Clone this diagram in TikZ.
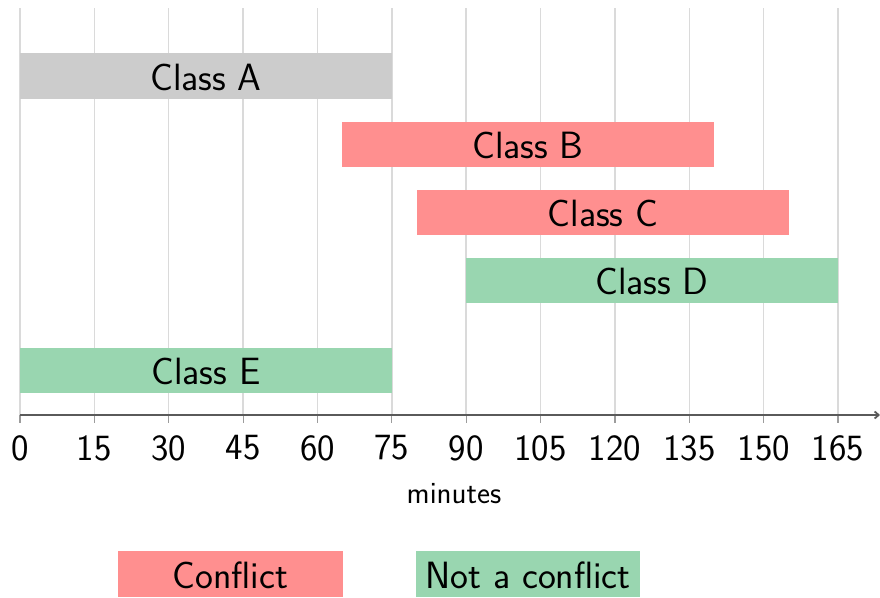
\documentclass[tikz,border=0pt]{standalone}
\usetikzlibrary{arrows.meta}
\definecolor{barred}{RGB}{255,143,143}
\definecolor{bargreen}{RGB}{153,214,176}
\definecolor{bargray}{RGB}{204,204,204}
\definecolor{gridc}{RGB}{218,218,218}
\definecolor{axisc}{RGB}{90,90,90}
\begin{document}
\begin{tikzpicture}[x=1pt,y=-1pt,
  lbl/.style={font=\sffamily\fontsize{38}{44}\selectfont,inner sep=0pt},
  ticklbl/.style={font=\sffamily\fontsize{37}{42}\selectfont,inner sep=0pt},
  gridline/.style={gridc,line width=1.5pt},
  tickline/.style={axisc!60,line width=1.2pt}]
\useasboundingbox (0,0) rectangle (880,597);
% grid
\foreach \m in {0,15,...,165}{
  \draw[gridline] ({20+\m*4.958},8) -- ({20+\m*4.958},415);
  \draw[tickline] ({20+\m*4.958},415) -- ({20+\m*4.958},423);
  \node[ticklbl,anchor=center] (t\m) at ({20+\m*4.958},448) {\m};
}
% bars
\fill[bargray] (20,53) rectangle (392,99);
\node[lbl] (a) at (206,77) {Class A};
\fill[barred] (342,122) rectangle (714,167);
\node[lbl] (b) at (528,145) {Class B};
\fill[barred] (417,190) rectangle (789,235);
\node[lbl] (c) at (603,213) {Class C};
\fill[bargreen] (466,258) rectangle (838,303);
\node[lbl] (d) at (652,281) {Class D};
\fill[bargreen] (20,348) rectangle (392,393);
\node[lbl] (e) at (206,371) {Class E};
% axis
\coordinate (ax0) at (20,415);
\coordinate (ax1) at (880,415);
\draw[axisc,line width=1.8pt,-{Straight Barb[length=4pt,width=7pt]}] (ax0) -- (ax1);
\node[font=\sffamily\fontsize{31}{36}\selectfont,inner sep=0pt] (xl) at (454,494) {minutes};
% legend
\fill[barred] (118,551) rectangle (343,597);
\node[lbl] (lc) at (230.5,575) {Conflict};
\fill[bargreen] (416,551) rectangle (640,597);
\node[lbl] (lg) at (528,575) {Not a conflict};
\end{tikzpicture}
\end{document}
